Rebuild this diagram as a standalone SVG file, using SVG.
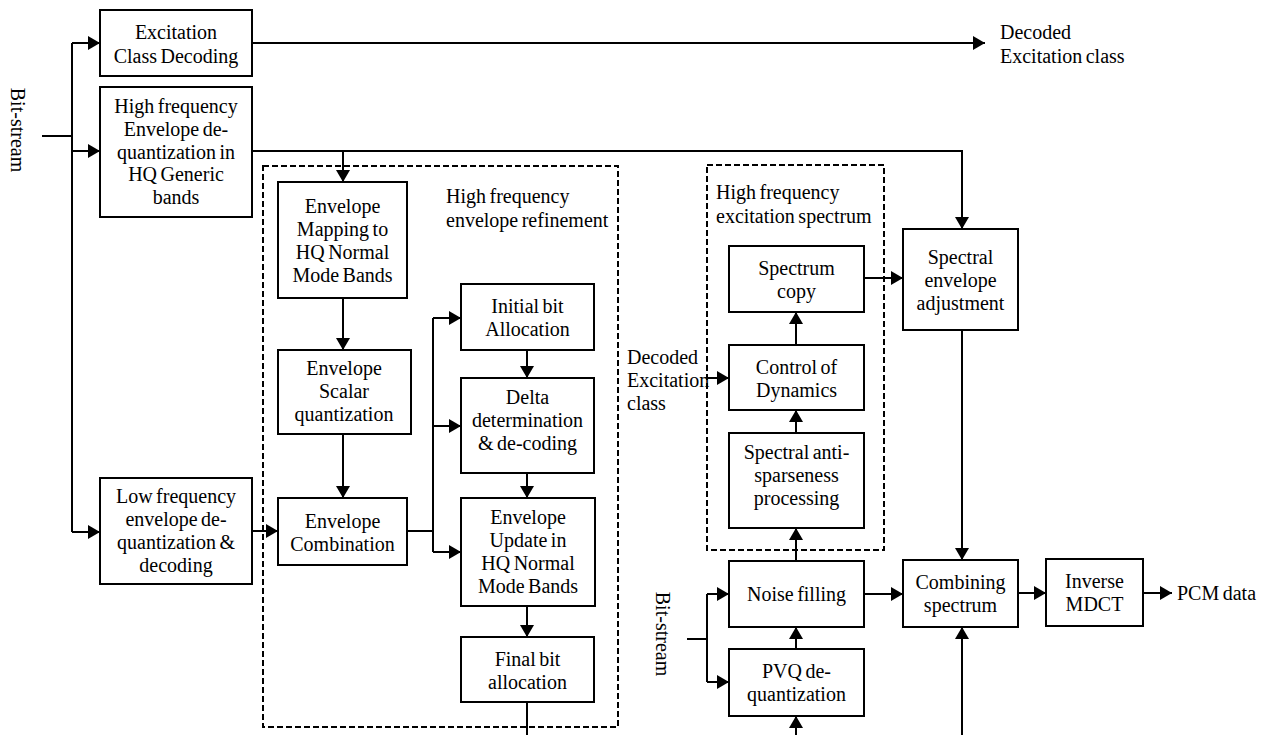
<svg xmlns="http://www.w3.org/2000/svg" width="1264" height="735" viewBox="0 0 1264 735">
<style>
.b{fill:#fff;stroke:#000;stroke-width:2}
.d{fill:none;stroke:#000;stroke-width:2;stroke-dasharray:6,3}
.c{fill:none;stroke:#000;stroke-width:2}
.a{fill:none;stroke:#000;stroke-width:2;marker-end:url(#ah)}
text{font-size:20px;fill:#000;word-spacing:-1.5px}
.m{text-anchor:middle}
</style>
<defs>
<marker id="ah" markerUnits="userSpaceOnUse" markerWidth="13" markerHeight="14" refX="12" refY="7" orient="auto">
<path d="M0,0 L12,7 L0,14 z" fill="#000"/>
</marker>
</defs>
<rect width="1264" height="735" fill="#fff"/>
<g font-family="Liberation Serif, Times New Roman, serif">
<g id="groups">
<rect class="d" x="263" y="166" width="355" height="561"/>
<text x="446" y="203">High frequency</text>
<text x="446" y="227">envelope refinement</text>
<rect class="d" x="707" y="165" width="177" height="385"/>
<text x="716" y="199">High frequency</text>
<text x="716" y="223">excitation spectrum</text>
</g>
<g id="connectors">
<path class="c" d="M42,136 H72 M72,43 V532"/>
<path class="a" d="M72,43 H100"/>
<path class="a" d="M72,151 H100"/>
<path class="a" d="M72,532 H100"/>
<path class="a" d="M252,43 H985"/>
<path class="a" d="M252,151 H962 V229"/>
<path class="a" d="M343,151 V182"/>
<path class="a" d="M343,298 V350"/>
<path class="a" d="M343,434 V498"/>
<path class="a" d="M252,531 H278"/>
<path class="c" d="M407,531 H433 M433,318 V552"/>
<path class="a" d="M433,318 H461"/>
<path class="a" d="M433,426 H461"/>
<path class="a" d="M433,552 H461"/>
<path class="a" d="M527,350 V378"/>
<path class="a" d="M527,473 V498"/>
<path class="a" d="M527,606 V637"/>
<path class="c" d="M527,702 V735"/>
<path class="a" d="M706,378 H729"/>
<path class="a" d="M796,345 V312"/>
<path class="a" d="M796,433 V410"/>
<path class="a" d="M796,561 V528"/>
<path class="a" d="M796,649 V627"/>
<path class="a" d="M796,735 V716"/>
<path class="c" d="M687,639 H707 M707,594 V682"/>
<path class="a" d="M707,594 H729"/>
<path class="a" d="M707,682 H729"/>
<path class="a" d="M864,278 H903"/>
<path class="a" d="M962,330 V560"/>
<path class="a" d="M864,594 H903"/>
<path class="a" d="M962,735 V627"/>
<path class="a" d="M1018,593 H1046"/>
<path class="a" d="M1143,593 H1172"/>
</g>
<g id="labels">
<text transform="rotate(90 11 130)" x="11" y="130" class="m">Bit-stream</text>
<text transform="rotate(90 656 634)" x="656" y="634" class="m">Bit-stream</text>
<text x="1000" y="39">Decoded</text>
<text x="1000" y="63">Excitation class</text>
<text x="627" y="364">Decoded</text>
<text x="627" y="387">Excitation</text>
<text x="627" y="410">class</text>
<text x="1177" y="600">PCM data</text>
</g>
<g id="n-exc"><rect class="b" x="100" y="10" width="152" height="66"/><text class="m" x="176" y="39">Excitation</text><text class="m" x="176" y="63">Class Decoding</text></g>
<g id="n-hfenv"><rect class="b" x="100" y="87" width="152" height="130"/><text class="m" x="176" y="113">High frequency</text><text class="m" x="176" y="136">Envelope de-</text><text class="m" x="176" y="159">quantization in</text><text class="m" x="176" y="181">HQ Generic</text><text class="m" x="176" y="204">bands</text></g>
<g id="n-lfenv"><rect class="b" x="100" y="478" width="152" height="106"/><text class="m" x="176" y="503">Low frequency</text><text class="m" x="176" y="526">envelope de-</text><text class="m" x="176" y="549">quantization &amp;</text><text class="m" x="176" y="572">decoding</text></g>
<g id="n-map"><rect class="b" x="278" y="182" width="129" height="116"/><text class="m" x="342.5" y="213">Envelope</text><text class="m" x="342.5" y="236">Mapping to</text><text class="m" x="342.5" y="259">HQ Normal</text><text class="m" x="342.5" y="282">Mode Bands</text></g>
<g id="n-scalar"><rect class="b" x="278" y="350" width="133" height="84"/><text class="m" x="344" y="375">Envelope</text><text class="m" x="344" y="398">Scalar</text><text class="m" x="344" y="421">quantization</text></g>
<g id="n-comb"><rect class="b" x="278" y="498" width="129" height="67"/><text class="m" x="342.5" y="528">Envelope</text><text class="m" x="342.5" y="551">Combination</text></g>
<g id="n-init"><rect class="b" x="461" y="284" width="133" height="66"/><text class="m" x="527.5" y="313">Initial bit</text><text class="m" x="527.5" y="336">Allocation</text></g>
<g id="n-delta"><rect class="b" x="461" y="378" width="133" height="95"/><text class="m" x="527.5" y="404">Delta</text><text class="m" x="527.5" y="427">determination</text><text class="m" x="527.5" y="450">&amp; de-coding</text></g>
<g id="n-update"><rect class="b" x="461" y="498" width="134" height="108"/><text class="m" x="528" y="524">Envelope</text><text class="m" x="528" y="547">Update in</text><text class="m" x="528" y="570">HQ Normal</text><text class="m" x="528" y="593">Mode Bands</text></g>
<g id="n-final"><rect class="b" x="461" y="637" width="133" height="65"/><text class="m" x="527.5" y="666">Final bit</text><text class="m" x="527.5" y="689">allocation</text></g>
<g id="n-copy"><rect class="b" x="729" y="246" width="135" height="66"/><text class="m" x="796.5" y="275">Spectrum</text><text class="m" x="796.5" y="298">copy</text></g>
<g id="n-dyn"><rect class="b" x="729" y="345" width="135" height="65"/><text class="m" x="796.5" y="374">Control of</text><text class="m" x="796.5" y="397">Dynamics</text></g>
<g id="n-anti"><rect class="b" x="729" y="433" width="135" height="95"/><text class="m" x="796.5" y="459">Spectral anti-</text><text class="m" x="796.5" y="482">sparseness</text><text class="m" x="796.5" y="505">processing</text></g>
<g id="n-noise"><rect class="b" x="729" y="561" width="135" height="66"/><text class="m" x="796.5" y="601">Noise filling</text></g>
<g id="n-pvq"><rect class="b" x="729" y="649" width="135" height="67"/><text class="m" x="796.5" y="678">PVQ de-</text><text class="m" x="796.5" y="701">quantization</text></g>
<g id="n-sea"><rect class="b" x="903" y="229" width="115" height="101"/><text class="m" x="960.5" y="264">Spectral</text><text class="m" x="960.5" y="287">envelope</text><text class="m" x="960.5" y="310">adjustment</text></g>
<g id="n-combsp"><rect class="b" x="903" y="560" width="115" height="67"/><text class="m" x="960.5" y="589">Combining</text><text class="m" x="960.5" y="612">spectrum</text></g>
<g id="n-imdct"><rect class="b" x="1046" y="559" width="97" height="67"/><text class="m" x="1094.5" y="588">Inverse</text><text class="m" x="1094.5" y="611">MDCT</text></g>
</g>
</svg>
